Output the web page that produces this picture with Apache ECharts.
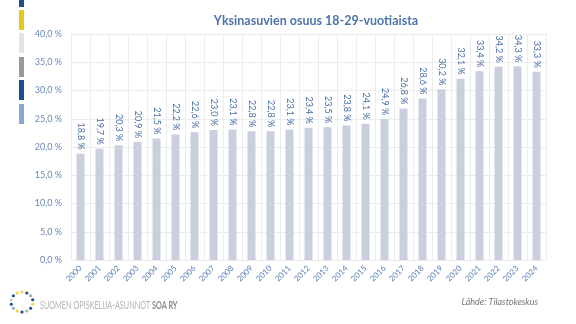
<!DOCTYPE html>
<html><head><meta charset="utf-8">
<script src="https://cdn.jsdelivr.net/npm/echarts@6/dist/echarts.min.js"></script>
<style>html,body{margin:0;padding:0;background:#fff}#c{width:576px;height:324px}</style>
</head><body><div id="c"></div>
<script>
const years = ['2000','2001','2002','2003','2004','2005','2006','2007','2008','2009','2010','2011','2012','2013','2014','2015','2016','2017','2018','2019','2020','2021','2022','2023','2024'];
const shares = [18.8,19.7,20.3,20.9,21.5,22.2,22.6,23.0,23.1,22.8,22.8,23.1,23.4,23.5,23.8,24.1,24.9,26.8,28.6,30.2,32.1,33.4,34.2,34.3,33.3];
const titleText = 'Yksinasuvien osuus 18-29-vuotiaista';
const sourceText = 'Lähde: Tilastokeskus';
const orgText = 'SUOMEN OPISKELIJA-ASUNNOT ';
const orgBold = 'SOA RY';

const fmt = v => v.toFixed(1).replace('.', ',') + ' %';
const F = 'Lato, "Open Sans", sans-serif';

const stripes = [
  {y:0,h:7,c:'#1f4e8c'},{y:10,h:20,c:'#e8c61e'},{y:33,h:20,c:'#e4e4e4'},
  {y:57,h:20,c:'#9a9a9a'},{y:80,h:20,c:'#1f4e8c'},{y:104,h:20,c:'#8aa6d4'}
];
const graphics = stripes.map(s => ({type:'rect', shape:{x:19,y:s.y,width:5,height:s.h}, style:{fill:s.c}}));
// logo ring of dots
const dotCols = ['#f0d44a','#1f4e8c','#9aa9c7','#1f4e8c','#f0d44a','#1f4e8c','#b0b0b0','#1f4e8c','#f0d44a','#8aa6d4','#1f4e8c','#c8c8c8','#1f4e8c','#f0d44a'];
for (let i = 0; i < dotCols.length; i++) {
  const a = i / dotCols.length * Math.PI * 2 - Math.PI/2;
  graphics.push({type:'circle', shape:{cx:22 + 11*Math.cos(a), cy:302 + 10*Math.sin(a), r:1.6}, style:{fill:dotCols[i]}});
}
graphics.push({type:'text', x:40, y:305, scaleX:0.66, originX:0, originY:0,
  style:{text:'{a|' + orgText + '}{b|' + orgBold + '}', verticalAlign:'middle',
    rich:{a:{fill:'#b5b5b5', fontSize:11, fontFamily:F}, b:{fill:'#8a8a8a', fontSize:11, fontWeight:'bold', fontFamily:F}}}});
graphics.push({type:'text', x:538, y:302, style:{text:sourceText, fill:'#777', font:'italic 9px ' + F, align:'right', verticalAlign:'middle'}});

const chart = echarts.init(document.getElementById('c'), null, {renderer:'canvas'});
chart.setOption({
  animation:false,
  title:{text:titleText, left:311, top:9, textAlign:'center', textStyle:{color:'#4f74ad', fontSize:12.5, fontWeight:'bold', fontFamily:F}},
  grid:{left:71, right:30, top:34, bottom:64, containLabel:false},
  xAxis:{type:'category', data:years, boundaryGap:true,
    axisLine:{show:false}, axisTick:{show:false},
    splitLine:{show:true, lineStyle:{color:'#ececec', width:1}},
    axisLabel:{rotate:45, color:'#5a80b8', fontSize:8, fontFamily:F, margin:7, interval:0}},
  yAxis:{type:'value', min:0, max:40, interval:5,
    axisLine:{show:false}, axisTick:{show:false},
    splitLine:{lineStyle:{color:'#ececec', width:1}},
    axisLabel:{color:'#6a88b8', fontSize:9, fontFamily:F, margin:9, formatter:v => fmt(v)}},
  series:[{type:'bar', data:shares, barWidth:8, itemStyle:{color:'#c9cfdd'},
    label:{show:true, position:'top', rotate:-90, align:'right', verticalAlign:'middle', distance:4,
      color:'#4a6fa5', fontSize:9, fontFamily:F, formatter:p => fmt(p.value)}}],
  graphic:graphics
});
</script></body></html>
